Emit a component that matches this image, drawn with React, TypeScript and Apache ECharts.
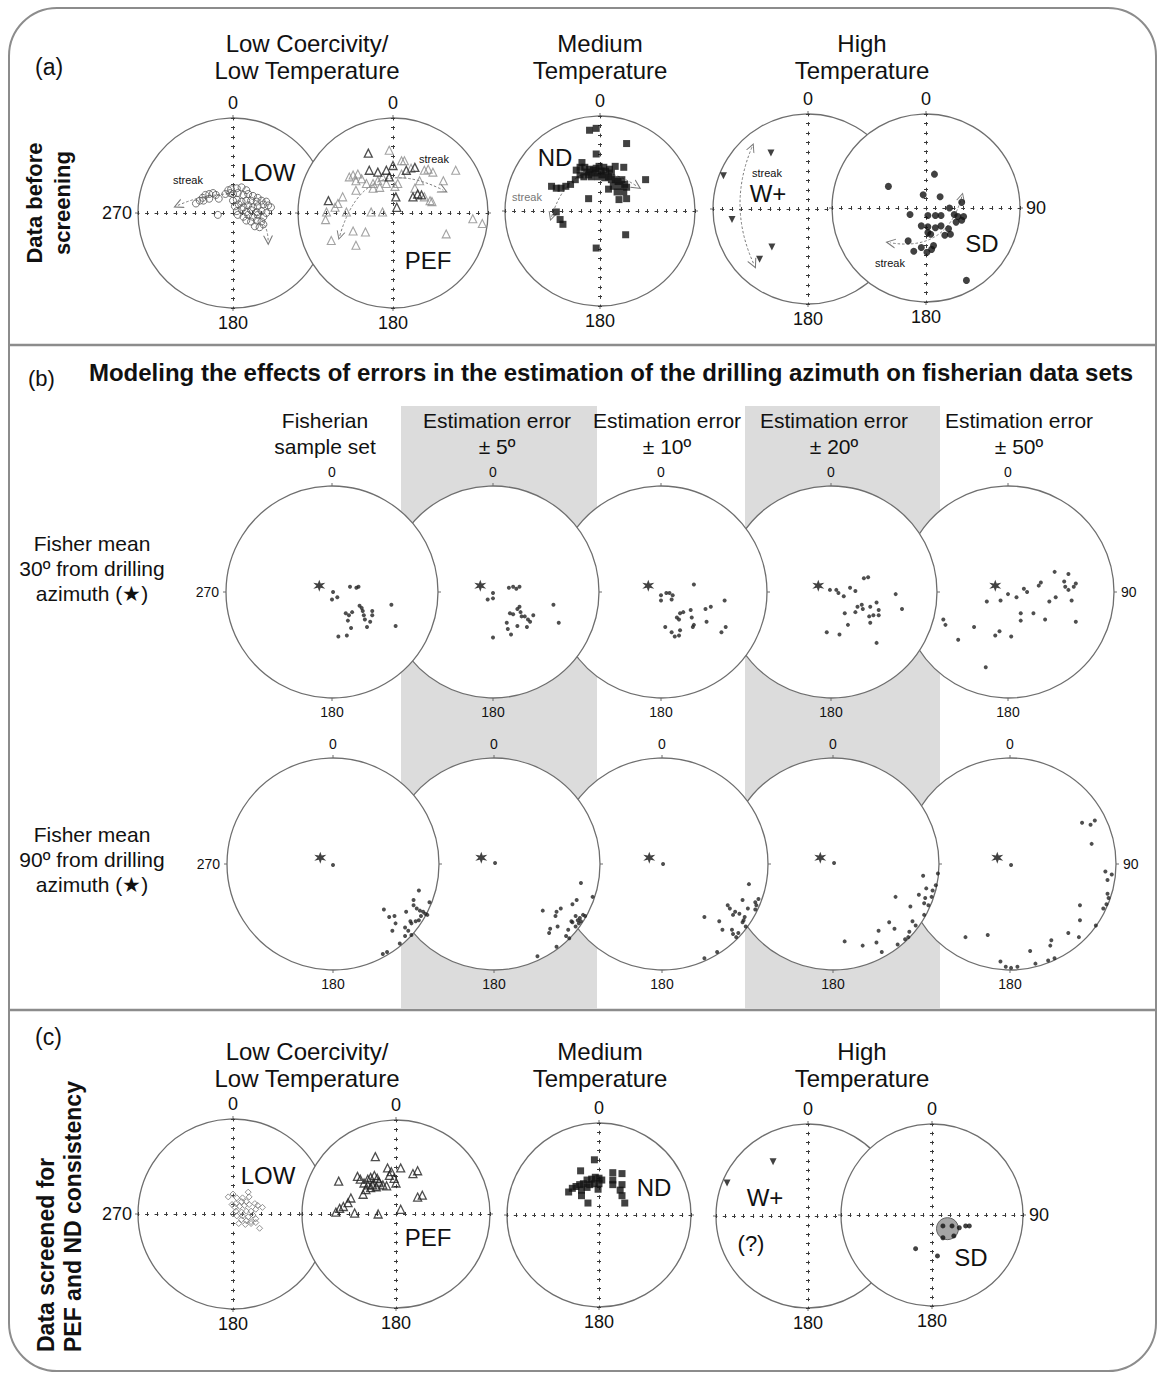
import React, { useEffect, useRef } from 'react';
import * as echarts from 'echarts';

const FONT = '"Liberation Sans", Arial, Helvetica, sans-serif';
type P = [number, number];

// ---------- Panel (a): data before screening (equal-area net, unit radius) ----------
const LOW_A: P[] = [[-0.39,0.10],[-0.35,0.13],[-0.32,0.16],[-0.29,0.19],[-0.25,0.20],[-0.21,0.21],[-0.18,0.19],[-0.15,0.15],[-0.25,0.15],[-0.31,0.13],[-0.05,0.24],[-0.03,0.21],[-0.08,0.20],[-0.16,-0.02],
[-0.02,0.25],[0.04,0.26],[0.09,0.27],[0.14,0.24],[0.00,0.20],[0.05,0.21],[0.11,0.19],[0.16,0.20],[0.21,0.18],[0.26,0.16],[0.00,0.13],[0.04,0.14],[0.09,0.12],[0.14,0.13],[0.19,0.13],[0.25,0.12],[0.30,0.13],[0.35,0.12],[0.02,0.07],[0.06,0.09],[0.11,0.06],[0.16,0.08],[0.21,0.06],[0.26,0.07],[0.32,0.09],[0.37,0.08],[0.40,0.06],[0.04,0.02],[0.09,0.04],[0.14,0.01],[0.19,0.03],[0.25,0.01],[0.30,0.02],[0.35,0.00],[0.05,-0.02],[0.11,-0.04],[0.16,-0.02],[0.21,-0.04],[0.26,-0.02],[0.32,-0.04],[0.14,-0.08],[0.19,-0.09],[0.25,-0.08],[0.30,-0.09],[0.23,-0.14],[0.28,-0.15],[0.32,-0.12]];
const PEF_A_DARK: P[] = [[-0.26,0.63],[-0.07,0.45],[0.00,0.50],[-0.25,0.45],[0.14,0.45],[0.23,0.48],[0.21,0.17],[0.26,0.20],[0.30,0.19],[0.03,0.17],[0.04,0.06],[-0.68,0.13],[-0.16,0.43],[-0.04,0.38]];
const PEF_A_GRAY: P[] = [[-0.04,0.66],[0.09,0.55],[0.12,0.55],[-0.37,0.41],[-0.42,0.40],[-0.46,0.38],[-0.39,0.34],[-0.33,0.36],[-0.28,0.31],[-0.21,0.31],[-0.16,0.34],[-0.11,0.38],[0.05,0.31],[0.09,0.41],[0.19,0.47],[0.33,0.45],[0.37,0.46],[0.42,0.43],[0.53,0.34],[0.66,0.45],[0.28,0.34],[0.23,0.26],[0.41,0.12],[0.02,0.28],[-0.07,0.31],[-0.14,0.27],[-0.21,0.26],[-0.39,0.24],[-0.53,0.17],[-0.58,0.10],[-0.61,0.06],[-0.70,0.01],[-0.71,-0.07],[-0.49,0.01],[-0.23,0.01],[-0.11,0.01],[-0.42,-0.19],[-0.29,-0.20],[-0.65,-0.29],[-0.39,-0.34],[0.56,-0.22],[0.84,-0.06],[0.94,-0.11],[0.39,0.13],[0.33,0.17]];
const ND_A: P[] = [[-0.11,0.85],[-0.04,0.87],[-0.04,0.60],[0.28,0.71],[0.48,0.33],[-0.21,0.46],[-0.25,0.43],[-0.19,0.51],[-0.16,0.46],[-0.14,0.41],[-0.11,0.44],[-0.07,0.43],[-0.04,0.45],[-0.01,0.47],[0.01,0.42],[0.04,0.46],[0.06,0.42],[0.10,0.44],[0.12,0.40],[0.16,0.47],[0.25,0.46],[-0.21,0.38],[-0.17,0.36],[-0.12,0.38],[-0.09,0.36],[-0.05,0.40],[-0.02,0.36],[0.02,0.38],[0.05,0.35],[0.09,0.36],[0.12,0.33],[0.16,0.33],[0.19,0.31],[0.23,0.33],[0.26,0.28],[0.28,0.25],[0.21,0.26],[0.14,0.26],[0.09,0.23],[0.18,0.20],[0.25,0.20],[0.20,0.12],[0.28,0.13],[-0.12,0.13],[-0.31,0.28],[-0.36,0.26],[-0.41,0.24],[-0.46,0.24],[-0.51,0.26],[-0.26,0.33],[-0.46,-0.01],[-0.42,-0.09],[-0.39,-0.14],[0.27,-0.25],[-0.04,-0.39]];
const WPLUS_A: P[] = [[-0.39,0.59],[-0.89,0.35],[-0.80,-0.11],[-0.38,-0.40],[-0.51,-0.53]];
const SD_A: P[] = [[0.09,0.36],[-0.40,0.23],[-0.03,0.14],[0.15,0.12],[0.38,0.06],[0.25,0.00],[-0.17,-0.07],[0.02,-0.08],[0.10,-0.08],[0.16,-0.08],[0.30,-0.07],[0.34,-0.09],[0.38,-0.13],[0.40,-0.09],[0.32,-0.15],[-0.05,-0.19],[0.02,-0.20],[0.10,-0.21],[0.16,-0.19],[0.24,-0.22],[0.02,-0.26],[0.05,-0.28],[0.20,-0.29],[0.26,-0.28],[-0.19,-0.35],[-0.13,-0.46],[-0.05,-0.42],[0.01,-0.47],[0.06,-0.44],[0.08,-0.40],[0.43,-0.77]];

// streak arrows: [x1, y1, x2, y2] in net units
const STREAK_LOW_1 = [-0.05, 0.20, -0.58, 0.08];
const STREAK_LOW_2 = [0.25, -0.01, 0.37, -0.29];
const STREAK_PEF = [-0.56, -0.24, 0.53, 0.24];
const STREAK_ND = [-0.51, -0.06, 0.39, 0.26];
const STREAK_WPLUS = [-0.59, 0.65, -0.57, -0.58];
const STREAK_SD = [0.38, 0.12, -0.38, -0.37];

// ---------- Panel (b): modelled Fisherian sets ----------
const STAR_30: P[] = [[-0.12, 0.06]];
const STAR_90: P[] = [[-0.12, 0.06]];
const B30_FISHER: P[] = [[0.17,0.05],[0.23,0.04],[0.25,0.05],[0.01,0.00],[0.00,-0.07],[0.05,-0.05],[0.13,-0.20],[0.16,-0.22],[0.19,-0.19],[0.26,-0.13],[0.28,-0.15],[0.29,-0.18],[0.30,-0.22],[0.31,-0.26],[0.38,-0.18],[0.38,-0.22],[0.36,-0.28],[0.33,-0.33],[0.56,-0.12],[0.60,-0.32],[0.15,-0.27],[0.18,-0.34],[0.14,-0.41],[0.06,-0.42]];
const B30_E5: P[] = [[0.15,0.04],[0.19,0.05],[0.22,0.03],[0.25,0.05],[0.00,-0.01],[-0.05,-0.07],[0.00,-0.06],[0.16,-0.20],[0.19,-0.21],[0.23,-0.16],[0.25,-0.14],[0.26,-0.19],[0.27,-0.23],[0.30,-0.23],[0.33,-0.26],[0.38,-0.22],[0.35,-0.28],[0.32,-0.33],[0.23,-0.32],[0.13,-0.29],[0.14,-0.35],[0.17,-0.40],[0.00,-0.43],[0.57,-0.12],[0.62,-0.29]];
const B30_E10: P[] = [[0.00,-0.03],[0.05,-0.01],[0.08,-0.01],[0.11,-0.03],[0.00,-0.08],[0.10,-0.07],[0.31,0.07],[0.15,-0.24],[0.18,-0.20],[0.21,-0.19],[0.17,-0.26],[0.28,-0.17],[0.29,-0.24],[0.31,-0.31],[0.30,-0.33],[0.42,-0.16],[0.47,-0.14],[0.43,-0.28],[0.60,-0.08],[0.04,-0.33],[0.10,-0.38],[0.13,-0.42],[0.17,-0.41],[0.18,-0.36],[0.57,-0.38],[0.61,-0.33]];
const B30_E20: P[] = [[-0.01,0.02],[0.05,0.02],[0.07,-0.01],[0.12,-0.04],[0.18,0.04],[0.23,0.01],[0.31,0.13],[0.35,0.14],[0.25,-0.14],[0.23,-0.19],[0.13,-0.20],[0.29,-0.12],[0.30,-0.16],[0.37,-0.14],[0.40,-0.22],[0.36,-0.23],[0.37,-0.29],[0.43,-0.10],[0.45,-0.17],[0.45,-0.22],[0.43,-0.48],[0.61,-0.02],[0.67,-0.16],[0.16,-0.31],[-0.04,-0.38],[0.08,-0.40]];
const B30_E50: P[] = [[0.00,-0.02],[-0.07,-0.08],[0.08,-0.05],[0.15,0.03],[0.18,0.00],[0.29,0.06],[0.31,0.09],[0.44,0.19],[0.53,0.10],[0.57,0.17],[0.64,0.08],[0.62,0.05],[0.57,0.02],[0.54,0.05],[0.45,-0.05],[0.39,-0.09],[0.60,-0.08],[0.64,-0.28],[0.35,-0.26],[0.24,-0.20],[0.12,-0.20],[0.12,-0.27],[-0.20,-0.09],[-0.61,-0.26],[-0.59,-0.31],[-0.32,-0.33],[-0.47,-0.45],[-0.12,-0.41],[-0.08,-0.37],[0.03,-0.42],[-0.21,-0.71]];
const B90_FISHER: P[] = [[0.00,-0.01],[0.81,-0.25],[0.76,-0.34],[0.91,-0.36],[0.76,-0.39],[0.79,-0.42],[0.82,-0.44],[0.85,-0.45],[0.87,-0.47],[0.83,-0.49],[0.81,-0.53],[0.78,-0.54],[0.74,-0.56],[0.73,-0.54],[0.69,-0.45],[0.48,-0.43],[0.53,-0.50],[0.58,-0.49],[0.59,-0.56],[0.56,-0.63],[0.68,-0.60],[0.71,-0.63],[0.74,-0.67],[0.68,-0.68],[0.63,-0.75],[0.51,-0.83],[0.47,-0.85],[0.89,-0.48]];
const B90_E5: P[] = [[0.01,0.01],[0.82,-0.18],[0.93,-0.31],[0.78,-0.34],[0.74,-0.38],[0.63,-0.42],[0.59,-0.45],[0.58,-0.49],[0.46,-0.44],[0.53,-0.61],[0.52,-0.65],[0.60,-0.59],[0.70,-0.62],[0.73,-0.54],[0.77,-0.49],[0.79,-0.53],[0.81,-0.51],[0.84,-0.48],[0.86,-0.49],[0.82,-0.54],[0.80,-0.56],[0.77,-0.59],[0.74,-0.55],[0.68,-0.68],[0.71,-0.70],[0.59,-0.78],[0.41,-0.87]];
const B90_E10: P[] = [[0.01,0.00],[0.82,-0.19],[0.62,-0.39],[0.64,-0.42],[0.69,-0.45],[0.67,-0.48],[0.73,-0.47],[0.76,-0.34],[0.81,-0.42],[0.78,-0.50],[0.77,-0.53],[0.76,-0.55],[0.88,-0.36],[0.91,-0.33],[0.89,-0.39],[0.88,-0.43],[0.40,-0.50],[0.54,-0.54],[0.57,-0.62],[0.66,-0.62],[0.67,-0.66],[0.70,-0.69],[0.72,-0.65],[0.79,-0.59],[0.52,-0.83],[0.40,-0.89]];
const B90_E20: P[] = [[0.01,0.01],[0.99,-0.09],[0.85,-0.11],[0.97,-0.20],[0.88,-0.23],[0.94,-0.25],[0.93,-0.31],[0.87,-0.32],[0.81,-0.29],[0.86,-0.37],[0.90,-0.39],[0.73,-0.40],[0.59,-0.31],[0.78,-0.58],[0.75,-0.54],[0.72,-0.64],[0.71,-0.69],[0.68,-0.71],[0.61,-0.76],[0.53,-0.55],[0.58,-0.61],[0.43,-0.63],[0.46,-0.83],[0.41,-0.74],[0.28,-0.77],[0.11,-0.73],[0.86,-0.48]];
const B90_E50: P[] = [[0.01,-0.01],[0.68,0.39],[0.76,0.37],[0.80,0.41],[0.77,0.19],[0.90,-0.07],[0.96,-0.10],[0.92,-0.15],[0.92,-0.28],[0.93,-0.32],[0.91,-0.38],[0.88,-0.42],[0.66,-0.39],[0.66,-0.53],[0.81,-0.58],[0.65,-0.69],[0.55,-0.65],[0.39,-0.72],[0.38,-0.77],[0.42,-0.89],[0.36,-0.91],[0.24,-0.94],[0.19,-0.82],[0.07,-0.97],[0.01,-0.98],[-0.04,-0.97],[-0.09,-0.92],[-0.42,-0.69],[-0.21,-0.67]];

// ---------- Panel (c): data screened for PEF and ND consistency ----------
const LOW_C: P[] = [[-0.05,0.18],[0.00,0.21],[0.04,0.17],[0.10,0.17],[0.16,0.23],[0.17,0.18],[0.14,0.13],[0.09,0.13],[0.03,0.11],[-0.01,0.10],[0.02,0.07],[0.07,0.08],[0.12,0.09],[0.17,0.10],[0.23,0.11],[0.26,0.09],[0.31,0.07],[0.24,0.05],[0.19,0.03],[0.14,0.03],[0.09,0.02],[0.03,0.03],[0.00,0.00],[0.04,-0.02],[0.10,-0.02],[0.16,-0.03],[0.21,-0.01],[0.24,-0.05],[0.19,-0.08],[0.14,-0.07],[0.09,-0.06],[0.06,-0.10],[0.13,-0.11],[0.19,-0.10],[0.24,-0.09],[0.28,-0.15]];
const PEF_C: P[] = [[-0.22,0.61],[-0.61,0.35],[-0.48,0.17],[-0.51,0.12],[-0.56,0.08],[-0.60,0.06],[-0.64,0.02],[-0.44,0.01],[-0.19,0.00],[0.05,0.05],[-0.41,0.40],[-0.38,0.37],[-0.34,0.33],[-0.30,0.37],[-0.27,0.39],[-0.23,0.41],[-0.20,0.38],[-0.18,0.34],[-0.14,0.31],[-0.21,0.29],[-0.27,0.28],[-0.32,0.26],[-0.35,0.21],[-0.30,0.31],[-0.25,0.31],[-0.09,0.49],[-0.05,0.45],[-0.07,0.41],[-0.02,0.38],[0.00,0.33],[0.05,0.49],[0.18,0.43],[0.23,0.46],[0.23,0.18],[0.28,0.20],[-0.10,0.30]];
const PEF_C_MEAN: P[] = [[-0.20, 0.31]];
const ND_C: P[] = [[-0.05,0.60],[-0.20,0.48],[-0.33,0.25],[-0.29,0.29],[-0.25,0.31],[-0.21,0.33],[-0.17,0.34],[-0.13,0.38],[-0.08,0.39],[-0.04,0.41],[0.00,0.40],[0.03,0.38],[-0.10,0.33],[-0.05,0.34],[0.00,0.34],[-0.19,0.27],[-0.13,0.30],[0.15,0.46],[0.25,0.45],[0.15,0.38],[0.15,0.33],[0.25,0.33],[0.23,0.27],[0.25,0.21],[0.28,0.13],[-0.01,0.28],[-0.19,0.21],[-0.12,0.13]];
const WPLUS_C: P[] = [[-0.38,0.59],[-0.88,0.36]];
const SD_C_MEAN: P[] = [[0.17, -0.15]];
const SD_C: P[] = [[0.12,-0.12],[0.22,-0.12],[0.30,-0.14],[0.37,-0.12],[0.41,-0.12],[0.12,-0.25],[0.24,-0.23],[-0.18,-0.37],[0.06,-0.45]];

// ---------- text ----------
const TITLES_AC = [['Low Coercivity/', 'Low Temperature'], ['Medium', 'Temperature'], ['High', 'Temperature']];
const TITLE_X = [307, 600, 862];
const HEADERS_B = [['Fisherian', 'sample set'], ['Estimation error', '± 5º'], ['Estimation error', '± 10º'], ['Estimation error', '± 20º'], ['Estimation error', '± 50º']];
const HEADER_X = [325, 497, 667, 834, 1019];
const ROW_LABELS_B = [['Fisher mean', '30º from drilling', 'azimuth (★)'], ['Fisher mean', '90º from drilling', 'azimuth (★)']];

// ---------- layout of the nets ----------
type Net = { key: string; cx: number; cy: number; r: number; labels: number[]; cross: boolean; z: number; fs: number; margin: number };
const NETS: Net[] = [
  { key: 'a1', cx: 233, cy: 213, r: 95, labels: [0, 180, 270], cross: true, z: 10, fs: 18, margin: 6 },
  { key: 'a2', cx: 393, cy: 213, r: 95, labels: [0, 180], cross: true, z: 20, fs: 18, margin: 6 },
  { key: 'a3', cx: 600, cy: 211, r: 95, labels: [0, 180], cross: true, z: 30, fs: 18, margin: 6 },
  { key: 'a4', cx: 808, cy: 209, r: 95, labels: [0, 180], cross: true, z: 40, fs: 18, margin: 6 },
  { key: 'a5', cx: 926, cy: 208, r: 94, labels: [0, 90, 180], cross: true, z: 50, fs: 18, margin: 6 },
  { key: 'b1', cx: 332, cy: 592, r: 106, labels: [0, 180, 270], cross: false, z: 90, fs: 14, margin: 7 },
  { key: 'b2', cx: 493, cy: 592, r: 106, labels: [0, 180], cross: false, z: 80, fs: 14, margin: 7 },
  { key: 'b3', cx: 661, cy: 592, r: 106, labels: [0, 180], cross: false, z: 70, fs: 14, margin: 7 },
  { key: 'b4', cx: 831, cy: 592, r: 106, labels: [0, 180], cross: false, z: 60, fs: 14, margin: 7 },
  { key: 'b5', cx: 1008, cy: 592, r: 106, labels: [0, 90, 180], cross: false, z: 50, fs: 14, margin: 7 },
  { key: 'b6', cx: 333, cy: 864, r: 106, labels: [0, 180, 270], cross: false, z: 90, fs: 14, margin: 7 },
  { key: 'b7', cx: 494, cy: 864, r: 106, labels: [0, 180], cross: false, z: 80, fs: 14, margin: 7 },
  { key: 'b8', cx: 662, cy: 864, r: 106, labels: [0, 180], cross: false, z: 70, fs: 14, margin: 7 },
  { key: 'b9', cx: 833, cy: 864, r: 106, labels: [0, 180], cross: false, z: 60, fs: 14, margin: 7 },
  { key: 'b10', cx: 1010, cy: 864, r: 106, labels: [0, 90, 180], cross: false, z: 50, fs: 14, margin: 7 },
  { key: 'c1', cx: 233, cy: 1214, r: 95, labels: [0, 180, 270], cross: true, z: 10, fs: 18, margin: 6 },
  { key: 'c2', cx: 396, cy: 1214, r: 94, labels: [0, 180], cross: true, z: 20, fs: 18, margin: 6 },
  { key: 'c3', cx: 599, cy: 1215, r: 92, labels: [0, 180], cross: true, z: 30, fs: 18, margin: 6 },
  { key: 'c4', cx: 808, cy: 1216, r: 92, labels: [0, 180], cross: true, z: 40, fs: 18, margin: 6 },
  { key: 'c5', cx: 932, cy: 1215, r: 91, labels: [0, 90, 180], cross: true, z: 50, fs: 18, margin: 6 },
];

const STAR = 'path://M10 0 L12 6.54 L18.66 5 L14 10 L18.66 15 L12 13.46 L10 20 L8 13.46 L1.34 15 L6 10 L1.34 5 L8 6.54 Z';
const ARROW = 'path://M5 0 L10 9 L8.8 9 L5 2.2 L1.2 9 L0 9 Z';
const CLEAR = 'rgba(255,255,255,0)';

const STYLES: Record<string, any> = {
  openCircle: { symbol: 'circle', symbolSize: 7, itemStyle: { color: CLEAR, borderColor: '#555', borderWidth: 1 } },
  openTriDark: { symbol: 'triangle', symbolSize: 8, itemStyle: { color: CLEAR, borderColor: '#222', borderWidth: 1.3 } },
  openTriGray: { symbol: 'triangle', symbolSize: 8, itemStyle: { color: CLEAR, borderColor: '#8c8c8c', borderWidth: 1.1 } },
  square: { symbol: 'rect', symbolSize: 7, itemStyle: { color: '#111' } },
  downTri: { symbol: 'triangle', symbolSize: 7, symbolRotate: 180, itemStyle: { color: '#111' } },
  dot: { symbol: 'circle', symbolSize: 7, itemStyle: { color: '#111' } },
  smallDot: { symbol: 'circle', symbolSize: 4, itemStyle: { color: '#222' } },
  cDot: { symbol: 'circle', symbolSize: 5, itemStyle: { color: '#111' } },
  star: { symbol: STAR, symbolSize: 12, itemStyle: { color: '#111' } },
  openDiamond: { symbol: 'diamond', symbolSize: 6, itemStyle: { color: CLEAR, borderColor: '#777', borderWidth: 1 } },
  meanSmall: { symbol: 'circle', symbolSize: 11, itemStyle: { color: 'rgba(170,170,170,0.75)', borderColor: '#999', borderWidth: 1 } },
  meanBig: { symbol: 'circle', symbolSize: 22, itemStyle: { color: '#8f8f8f', borderColor: '#4a4a4a', borderWidth: 1 } },
};

const SCATTERS: [string, P[], string][] = [
  ['a1', LOW_A, 'openCircle'],
  ['a2', PEF_A_GRAY, 'openTriGray'], ['a2', PEF_A_DARK, 'openTriDark'],
  ['a3', ND_A, 'square'], ['a4', WPLUS_A, 'downTri'], ['a5', SD_A, 'dot'],
  ['b1', B30_FISHER, 'smallDot'], ['b2', B30_E5, 'smallDot'], ['b3', B30_E10, 'smallDot'], ['b4', B30_E20, 'smallDot'], ['b5', B30_E50, 'smallDot'],
  ['b6', B90_FISHER, 'smallDot'], ['b7', B90_E5, 'smallDot'], ['b8', B90_E10, 'smallDot'], ['b9', B90_E20, 'smallDot'], ['b10', B90_E50, 'smallDot'],
  ['b1', STAR_30, 'star'], ['b2', STAR_30, 'star'], ['b3', STAR_30, 'star'], ['b4', STAR_30, 'star'], ['b5', STAR_30, 'star'],
  ['b6', STAR_90, 'star'], ['b7', STAR_90, 'star'], ['b8', STAR_90, 'star'], ['b9', STAR_90, 'star'], ['b10', STAR_90, 'star'],
  ['c1', LOW_C, 'openDiamond'], ['c2', PEF_C_MEAN, 'meanSmall'], ['c2', PEF_C, 'openTriDark'],
  ['c3', ND_C, 'square'], ['c4', WPLUS_C, 'downTri'], ['c5', SD_C_MEAN, 'meanBig'], ['c5', SD_C, 'cDot'],
];

// [net, coords, curveness, both heads]
const STREAKS: [string, number[], number, boolean][] = [
  ['a1', STREAK_LOW_1, -0.1, false], ['a1', STREAK_LOW_2, 0.2, false],
  ['a2', STREAK_PEF, 0.6, true], ['a3', STREAK_ND, 0.65, true],
  ['a4', STREAK_WPLUS, -0.22, true], ['a5', STREAK_SD, 0.45, true],
];

function textEl(text: string, x: number, y: number, o: any = {}) {
  const align = o.align || 'center';
  const v = o.v || 'middle';
  return {
    type: 'text', x, y, rotation: o.rot || 0, z: o.z ?? 300, silent: true,
    scaleX: o.sx || 1,
    style: {
      text, fill: o.color || '#111', fontSize: o.size || 20, fontFamily: FONT, fontWeight: o.bold ? 'bold' : 'normal',
      textAlign: align, textVerticalAlign: v, align, verticalAlign: v,
    },
  };
}

function buildOption() {
  const polar: any[] = [], angleAxis: any[] = [], radiusAxis: any[] = [];
  const grid: any[] = [], xAxis: any[] = [], yAxis: any[] = [];
  const series: any[] = [];
  const graphic: any[] = [];
  const gridOf: Record<string, number> = {};
  const netOf: Record<string, Net> = {};

  // frame, separators, shaded columns
  graphic.push({ type: 'rect', z: 0, silent: true, shape: { x: 9, y: 8, width: 1147, height: 1363, r: 48 }, style: { fill: 'none', stroke: '#8c8c8c', lineWidth: 2 } });
  graphic.push({ type: 'line', z: 0, silent: true, shape: { x1: 9, y1: 345, x2: 1156, y2: 345 }, style: { stroke: '#8c8c8c', lineWidth: 2.5 } });
  graphic.push({ type: 'line', z: 0, silent: true, shape: { x1: 9, y1: 1010, x2: 1156, y2: 1010 }, style: { stroke: '#8c8c8c', lineWidth: 2.5 } });
  graphic.push({ type: 'rect', z: 1, silent: true, shape: { x: 401, y: 406, width: 196, height: 603 }, style: { fill: '#dcdcdc' } });
  graphic.push({ type: 'rect', z: 1, silent: true, shape: { x: 745, y: 406, width: 195, height: 603 }, style: { fill: '#dcdcdc' } });

  const axisCfg = (dim: 'x' | 'y', gi: number, n: Net, second: boolean) => ({
    gridIndex: gi, type: 'value', min: -1, max: 1, interval: 0.1, z: n.z + 1,
    position: dim === 'x' ? 'bottom' : 'left',
    show: n.cross, silent: true,
    axisLine: { show: true, onZero: true, lineStyle: { color: '#3a3a3a', width: 1, type: [3, n.r / 10 - 3], dashOffset: 1.5, opacity: second ? 0 : 1 } },
    axisTick: { show: true, inside: second, length: 2, lineStyle: { color: '#3a3a3a', width: 1 } },
    axisLabel: { show: false }, splitLine: { show: false }, splitArea: { show: false },
  });

  NETS.forEach((n, i) => {
    netOf[n.key] = n;
    polar.push({ center: [n.cx, n.cy], radius: n.r });
    angleAxis.push({
      polarIndex: i, type: 'value', min: 0, max: 360, interval: 90, startAngle: 90, clockwise: true, z: n.z + 1, silent: true,
      axisLine: { show: true, lineStyle: { color: '#6e6e6e', width: 1.3 } },
      axisTick: { show: true, length: 3, lineStyle: { color: '#6e6e6e' } },
      axisLabel: {
        show: true, margin: n.margin, fontSize: n.fs, fontFamily: FONT, color: '#111',
        formatter: (v: number) => (v < 360 && n.labels.includes(v) ? String(v) : ''),
      },
      splitLine: { show: false }, splitArea: { show: false },
    });
    radiusAxis.push({ polarIndex: i, type: 'value', min: 0, max: 1, show: false, axisLine: { show: false }, axisTick: { show: false }, axisLabel: { show: false }, splitLine: { show: false } });
    graphic.push({ type: 'circle', z: n.z, silent: true, shape: { cx: n.cx, cy: n.cy, r: n.r }, style: { fill: '#fff' } });
    const rect = { left: n.cx - n.r, top: n.cy - n.r, width: 2 * n.r, height: 2 * n.r, show: false };
    const gi = grid.length;
    grid.push({ ...rect });
    xAxis.push(axisCfg('x', gi, n, false));
    yAxis.push(axisCfg('y', gi, n, false));
    gridOf[n.key] = gi;
    if (n.cross) {
      const gj = grid.length;
      grid.push({ ...rect });
      xAxis.push(axisCfg('x', gj, n, true));
      yAxis.push(axisCfg('y', gj, n, true));
    }
  });

  SCATTERS.forEach(([key, data, sty]) => {
    const gi = gridOf[key];
    series.push({ type: 'scatter', xAxisIndex: gi, yAxisIndex: gi, z: netOf[key].z + 2, silent: true, data, ...STYLES[sty] });
  });

  STREAKS.forEach(([key, c, curv, both]) => {
    const gi = gridOf[key];
    series.push({
      type: 'lines', coordinateSystem: 'cartesian2d', xAxisIndex: gi, yAxisIndex: gi, z: netOf[key].z + 2, silent: true,
      symbol: [both ? ARROW : 'none', ARROW], symbolSize: [9, 10],
      lineStyle: { color: '#7a7a7a', width: 1, type: [2.5, 2], curveness: curv, opacity: 1 },
      data: [{ coords: [[c[0], c[1]], [c[2], c[3]]] }],
    });
  });

  // ---- texts ----
  const t = (s: string, x: number, y: number, o: any = {}) => graphic.push(textEl(s, x, y, o));
  // panel (a)
  t('(a)', 35, 67, { size: 23, align: 'left' });
  t('(c)', 35, 1037, { size: 23, align: 'left' });
  TITLES_AC.forEach((lines, k) => {
    t(lines[0], TITLE_X[k], 43, { size: 24 }); t(lines[1], TITLE_X[k], 70, { size: 24 });
    t(lines[0], TITLE_X[k], 1051, { size: 24 }); t(lines[1], TITLE_X[k], 1078, { size: 24 });
  });
  t('Data before', 34, 203, { size: 22, bold: true, rot: Math.PI / 2 });
  t('screening', 62, 203, { size: 22, bold: true, rot: Math.PI / 2 });
  t('Data screened for', 46, 1352, { size: 23, bold: true, rot: Math.PI / 2, align: 'left' });
  t('PEF and ND consistency', 73, 1352, { size: 23, bold: true, rot: Math.PI / 2, align: 'left' });
  t('LOW', 268, 172, { size: 24 });
  t('PEF', 428, 260, { size: 24 });
  t('ND', 555, 157, { size: 24 });
  t('W+', 768, 193, { size: 24 });
  t('SD', 982, 243, { size: 24 });
  t('streak', 188, 180, { size: 11 });
  t('streak', 434, 159, { size: 11 });
  t('streak', 527, 197, { size: 11, color: '#777' });
  t('streak', 767, 173, { size: 11 });
  t('streak', 890, 263, { size: 11 });
  // panel (b)
  t('(b)', 28, 378, { size: 22, align: 'left' });
  t('Modeling the effects of errors in the estimation of the drilling azimuth on fisherian data sets', 611, 372, { size: 24, bold: true });
  HEADERS_B.forEach((lines, k) => {
    t(lines[0], HEADER_X[k], 420, { size: 21 });
    t(lines[1], HEADER_X[k], 446, { size: 21 });
  });
  ROW_LABELS_B[0].forEach((s, k) => t(s, 92, 543 + 25 * k, { size: 21 }));
  ROW_LABELS_B[1].forEach((s, k) => t(s, 92, 834 + 25 * k, { size: 21 }));
  // panel (c)
  t('LOW', 268, 1175, { size: 24 });
  t('PEF', 428, 1237, { size: 24 });
  t('ND', 654, 1187, { size: 24 });
  t('W+', 765, 1197, { size: 24 });
  t('(?)', 751, 1243, { size: 22 });
  t('SD', 971, 1257, { size: 24 });

  return { animation: false, backgroundColor: '#fff', polar, angleAxis, radiusAxis, grid, xAxis, yAxis, series, graphic };
}

export default function App() {
  const ref = useRef<HTMLDivElement>(null);
  useEffect(() => {
    const chart = echarts.init(ref.current as HTMLDivElement, null, { renderer: 'svg' });
    chart.setOption(buildOption() as any);
    return () => chart.dispose();
  }, []);
  return <div ref={ref} style={{ position: 'absolute', left: 0, top: 0, width: 1158, height: 1375, background: '#fff' }} />;
}
